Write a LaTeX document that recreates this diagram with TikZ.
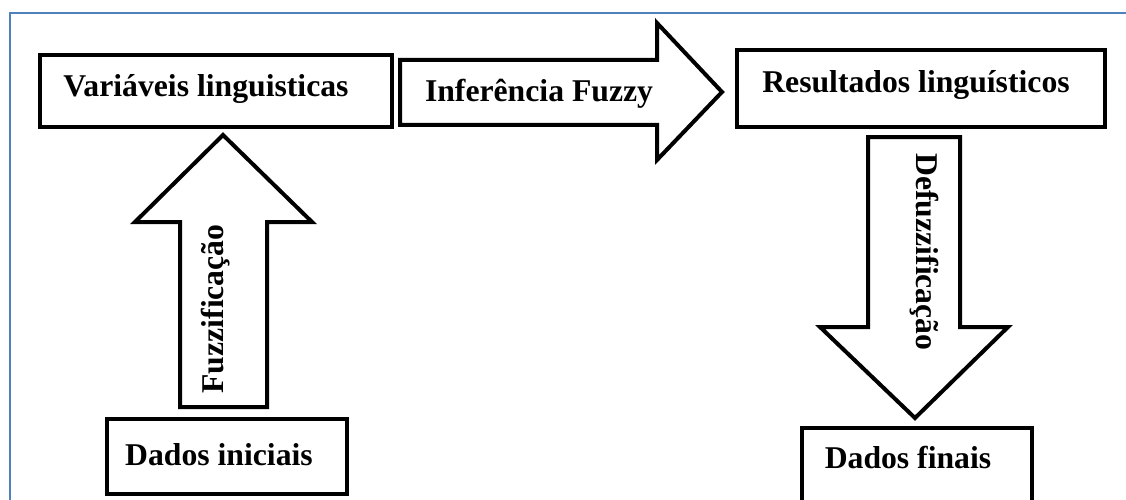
\documentclass[tikz,border=0pt]{standalone}
\usepackage{fontspec}
\setmainfont{Liberation Serif}
\begin{document}
\begin{tikzpicture}[x=1pt,y=-1pt,
  blockline/.style={draw=black,line width=4pt,line join=miter,fill=white},
  boxnode/.style={blockline,rectangle,inner sep=0pt,anchor=north west},
  lbl/.style={inner sep=0pt,anchor=base,font=\fontsize{31.7}{38}\selectfont\bfseries},
  frameline/.style={draw={rgb,255:red,79;green,129;blue,189},line width=2pt}]
\useasboundingbox (0,0) rectangle (1126,500);
\clip (0,0) rectangle (1126,500);
% blue frame
\coordinate (fa) at (10,500);
\coordinate (fb) at (10,13);
\coordinate (fc) at (1130,13);
\draw[frameline] (fa) -- (fb) -- (fc);
% boxes
\node[boxnode,minimum width=352pt,minimum height=72pt] (var) at (38,53) {};
\node[boxnode,minimum width=368pt,minimum height=77pt] (res) at (735,48) {};
\node[boxnode,minimum width=240pt,minimum height=75pt] (ini) at (105,417) {};
\node[boxnode,minimum width=230pt,minimum height=90pt] (fin) at (800,426) {};
% block arrows
\draw[blockline] (400,60) -- (657,60) -- (657,23) -- (722,92) -- (657,160) -- (657,125) -- (400,125) -- cycle;
\draw[blockline] (180,407) -- (180,222) -- (135,222) -- (223,135) -- (312,222) -- (267,222) -- (267,407) -- cycle;
\draw[blockline] (868,137) -- (960,137) -- (960,327) -- (1008,327) -- (915,418) -- (820,327) -- (868,327) -- cycle;
% labels
\node[lbl] (tvar) at (206,97) {Variáveis linguisticas};
\node[lbl] (tinf) at (539,102) {Inferência Fuzzy};
\node[lbl] (tres) at (916,93) {Resultados linguísticos};
\node[lbl] (tini) at (219,465) {Dados iniciais};
\node[lbl] (tfin) at (908,468) {Dados finais};
\node[lbl,rotate=90] (tfuz) at (223,309) {Fuzzificação};
\node[lbl,rotate=-90] (tdef) at (916,252) {Defuzzificação};
\end{tikzpicture}
\end{document}
